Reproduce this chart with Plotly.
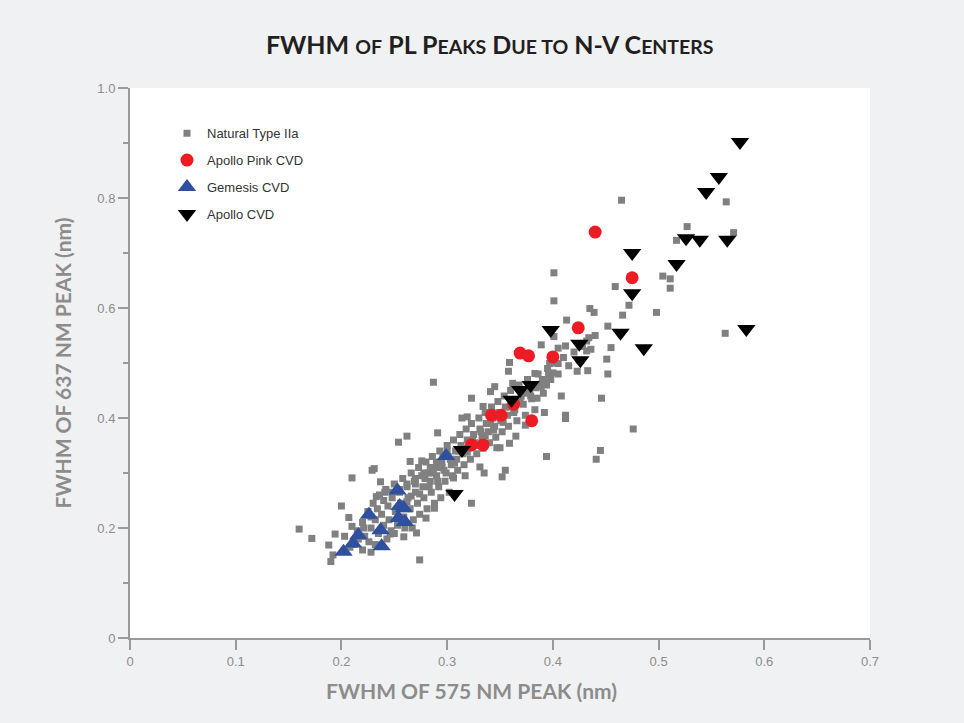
import plotly.graph_objects as go

# FWHM values (nm): (575 nm peak, 637 nm peak)
natural_iia = [
    (0.465, 0.796), (0.564, 0.793), (0.527, 0.748), (0.571, 0.737), (0.517, 0.723),
    (0.401, 0.664), (0.504, 0.658), (0.511, 0.653), (0.511, 0.636), (0.459, 0.639),
    (0.401, 0.613), (0.472, 0.605), (0.435, 0.599), (0.439, 0.592), (0.466, 0.587),
    (0.498, 0.592), (0.413, 0.578), (0.452, 0.567), (0.563, 0.554), (0.401, 0.548),
    (0.434, 0.546), (0.455, 0.528), (0.389, 0.533), (0.412, 0.531), (0.405, 0.527),
    (0.432, 0.522), (0.451, 0.507), (0.359, 0.501), (0.358, 0.485), (0.397, 0.499),
    (0.405, 0.499), (0.423, 0.485), (0.433, 0.486), (0.452, 0.480), (0.383, 0.481),
    (0.396, 0.478), (0.400, 0.482), (0.345, 0.457), (0.393, 0.466), (0.389, 0.457),
    (0.408, 0.440), (0.446, 0.436), (0.385, 0.436), (0.323, 0.436), (0.334, 0.421),
    (0.392, 0.410), (0.412, 0.405), (0.412, 0.399), (0.374, 0.387), (0.365, 0.367),
    (0.476, 0.380), (0.359, 0.354), (0.347, 0.346), (0.350, 0.346), (0.394, 0.330),
    (0.445, 0.341), (0.441, 0.325), (0.331, 0.311), (0.335, 0.300), (0.355, 0.305),
    (0.352, 0.293), (0.317, 0.295), (0.287, 0.465), (0.362, 0.463), (0.341, 0.448),
    (0.314, 0.400), (0.319, 0.402), (0.262, 0.367), (0.254, 0.356), (0.265, 0.321),
    (0.276, 0.322), (0.291, 0.373), (0.229, 0.305), (0.231, 0.308), (0.237, 0.284),
    (0.210, 0.291), (0.200, 0.240), (0.207, 0.219), (0.210, 0.203), (0.160, 0.198),
    (0.172, 0.181), (0.194, 0.189), (0.188, 0.169), (0.203, 0.185), (0.192, 0.151),
    (0.190, 0.139), (0.274, 0.142), (0.220, 0.160), (0.228, 0.156), (0.288, 0.236),
    (0.280, 0.218), (0.323, 0.245), (0.306, 0.291), (0.246, 0.189), (0.259, 0.184),
    (0.267, 0.200), (0.271, 0.191), (0.233, 0.257), (0.241, 0.265),
    # dense band
    (0.215, 0.195), (0.220, 0.210), (0.222, 0.185), (0.225, 0.230), (0.228, 0.200),
    (0.230, 0.245), (0.232, 0.215), (0.235, 0.190), (0.236, 0.260), (0.238, 0.225),
    (0.240, 0.205), (0.242, 0.270), (0.244, 0.240), (0.245, 0.215), (0.247, 0.195),
    (0.248, 0.255), (0.250, 0.280), (0.251, 0.230), (0.253, 0.205), (0.255, 0.265),
    (0.256, 0.245), (0.258, 0.290), (0.259, 0.220), (0.260, 0.200), (0.262, 0.275),
    (0.263, 0.255), (0.265, 0.235), (0.266, 0.300), (0.268, 0.215), (0.269, 0.285),
    (0.270, 0.265), (0.272, 0.245), (0.273, 0.310), (0.274, 0.225), (0.276, 0.295),
    (0.277, 0.275), (0.278, 0.255), (0.280, 0.320), (0.281, 0.235), (0.282, 0.300),
    (0.284, 0.285), (0.285, 0.265), (0.286, 0.330), (0.288, 0.245), (0.289, 0.310),
    (0.290, 0.295), (0.292, 0.275), (0.293, 0.340), (0.294, 0.255), (0.295, 0.320),
    (0.297, 0.305), (0.298, 0.285), (0.300, 0.350), (0.301, 0.330), (0.302, 0.265),
    (0.304, 0.315), (0.305, 0.295), (0.306, 0.360), (0.308, 0.340), (0.309, 0.325),
    (0.310, 0.305), (0.312, 0.370), (0.313, 0.350), (0.315, 0.335), (0.316, 0.315),
    (0.318, 0.380), (0.319, 0.360), (0.320, 0.345), (0.322, 0.325), (0.323, 0.390),
    (0.325, 0.370), (0.326, 0.355), (0.328, 0.335), (0.330, 0.400), (0.331, 0.380),
    (0.333, 0.365), (0.334, 0.345), (0.336, 0.410), (0.337, 0.390), (0.339, 0.375),
    (0.340, 0.355), (0.342, 0.420), (0.343, 0.400), (0.345, 0.385), (0.346, 0.365),
    (0.348, 0.430), (0.349, 0.410), (0.351, 0.395), (0.352, 0.375), (0.354, 0.440),
    (0.355, 0.420), (0.357, 0.405), (0.358, 0.385), (0.360, 0.450), (0.362, 0.430),
    (0.364, 0.415), (0.366, 0.395), (0.368, 0.460), (0.370, 0.440), (0.372, 0.425),
    (0.374, 0.405), (0.376, 0.470), (0.378, 0.450), (0.380, 0.435), (0.383, 0.415),
    (0.386, 0.480), (0.388, 0.460), (0.391, 0.445), (0.395, 0.490), (0.398, 0.470),
    (0.402, 0.500), (0.405, 0.480), (0.410, 0.510), (0.415, 0.495), (0.420, 0.520),
    (0.425, 0.505), (0.428, 0.530), (0.432, 0.540), (0.436, 0.525), (0.440, 0.550),
    (0.258, 0.235), (0.262, 0.248), (0.266, 0.258), (0.270, 0.280), (0.274, 0.262),
    (0.279, 0.290), (0.283, 0.275), (0.287, 0.300), (0.291, 0.285), (0.295, 0.310),
    (0.299, 0.300), (0.303, 0.325), (0.307, 0.318), (0.311, 0.340), (0.315, 0.345),
    (0.319, 0.338), (0.324, 0.360), (0.327, 0.350), (0.332, 0.375), (0.336, 0.368),
    (0.341, 0.390), (0.344, 0.378), (0.350, 0.400), (0.353, 0.392), (0.359, 0.420),
    (0.363, 0.410), (0.369, 0.430), (0.373, 0.445), (0.379, 0.440), (0.384, 0.455),
    (0.390, 0.470), (0.394, 0.460), (0.300, 0.340), (0.296, 0.330), (0.290, 0.320),
    (0.284, 0.310), (0.278, 0.300), (0.270, 0.290), (0.262, 0.280), (0.255, 0.270),
    (0.248, 0.265), (0.240, 0.250), (0.234, 0.235), (0.228, 0.220), (0.221, 0.200),
    (0.216, 0.180), (0.212, 0.170), (0.208, 0.165), (0.226, 0.175), (0.232, 0.170),
    (0.243, 0.180), (0.250, 0.190),
]
nat_x, nat_y = zip(*natural_iia)

pink_x = [0.440, 0.475, 0.424, 0.369, 0.377, 0.400, 0.342, 0.351, 0.380, 0.323, 0.334, 0.363]
pink_y = [0.738, 0.655, 0.564, 0.518, 0.513, 0.511, 0.405, 0.405, 0.395, 0.351, 0.351, 0.425]

gemesis_x = [0.299, 0.253, 0.255, 0.259, 0.226, 0.254, 0.260, 0.237, 0.216, 0.211, 0.238, 0.202]
gemesis_y = [0.331, 0.268, 0.240, 0.236, 0.224, 0.218, 0.211, 0.196, 0.187, 0.172, 0.167, 0.157]

apollo_x = [0.577, 0.557, 0.545, 0.526, 0.539, 0.565, 0.517, 0.475, 0.475, 0.464,
            0.486, 0.583, 0.398, 0.425, 0.426, 0.379, 0.369, 0.361, 0.314, 0.307]
apollo_y = [0.902, 0.838, 0.811, 0.727, 0.724, 0.724, 0.680, 0.700, 0.627, 0.555,
            0.527, 0.562, 0.560, 0.535, 0.505, 0.460, 0.451, 0.433, 0.342, 0.262]

x_ticks = [0, 0.1, 0.2, 0.3, 0.4, 0.5, 0.6, 0.7]
x_ticktext = ["0", "0.1", "0.2", "0.3", "0.4", "0.5", "0.6", "0.7"]
y_ticks = [0, 0.2, 0.4, 0.6, 0.8, 1.0]
y_ticktext = ["0", "0.2", "0.4", "0.6", "0.8", "1.0"]

fig = go.Figure()
fig.add_trace(go.Scatter(x=nat_x, y=nat_y, mode="markers", name="Natural Type IIa",
                         legendgroup="a",
                         marker=dict(symbol="square", size=7, color="#808080")))
fig.add_trace(go.Scatter(x=pink_x, y=pink_y, mode="markers", name="Apollo Pink CVD",
                         legendgroup="b",
                         marker=dict(symbol="circle", size=13, color="#ed1c24")))
fig.add_trace(go.Scatter(x=gemesis_x, y=gemesis_y, mode="markers", name="Gemesis CVD",
                         legendgroup="c",
                         marker=dict(symbol="triangle-up", size=16, color="#2f4f9f")))
fig.add_trace(go.Scatter(x=apollo_x, y=apollo_y, mode="markers", name="Apollo CVD",
                         legendgroup="d",
                         marker=dict(symbol="triangle-down", size=16, color="#000000")))

small = "<span style='font-size:19.5px'>"
title = ("<b>FWHM " + small + "OF</span> PL P" + small + "EAKS</span> D" + small +
         "UE TO</span> N-V C" + small + "ENTERS</span></b>")

axis_common = dict(
    showline=True, linecolor="#9a9a9a", linewidth=2,
    ticks="outside", ticklen=10, tickwidth=2, tickcolor="#9a9a9a",
    showgrid=False, zeroline=False,
    tickfont=dict(family="Liberation Sans Narrow, Liberation Sans, sans-serif",
                  size=13, color="#8c8c8c"),
)
title_font = dict(family="Lato, sans-serif", size=21, color="#8c8c8c")

fig.update_layout(
    width=964, height=723,
    paper_bgcolor="#f0f1f3", plot_bgcolor="#ffffff",
    margin=dict(l=130, r=94, t=88, b=85),
    title=dict(text=title, x=0.508, xanchor="center", y=0.938, yanchor="middle",
               font=dict(family="Lato, sans-serif", size=25, color="#231f20")),
    legend=dict(x=0.05, y=0.945, xanchor="left", yanchor="top",
                bgcolor="rgba(0,0,0,0)", tracegroupgap=7,
                font=dict(family="Liberation Sans, Arial, sans-serif", size=13, color="#333333")),
    xaxis=dict(range=[0, 0.7], tickvals=x_ticks, ticktext=x_ticktext, **axis_common),
    yaxis=dict(range=[0, 1.0], tickvals=y_ticks, ticktext=y_ticktext,
               minor=dict(tickvals=[0.1, 0.3, 0.5, 0.7, 0.9], ticklen=5, tickwidth=2,
                          tickcolor="#9a9a9a", ticks="outside"),
               title=dict(text="<b>FWHM OF 637 NM PEAK (nm)</b>", standoff=20,
                          font=title_font),
               **axis_common),
)

fig.add_annotation(text="<b>FWHM OF 575 NM PEAK (nm)</b>", xref="paper", yref="paper",
                   x=0.461, y=-0.095, xanchor="center", yanchor="middle",
                   showarrow=False, font=title_font)

fig.write_html("out.html", config={"displayModeBar": False},
               post_script="document.body.style.margin='0';")
